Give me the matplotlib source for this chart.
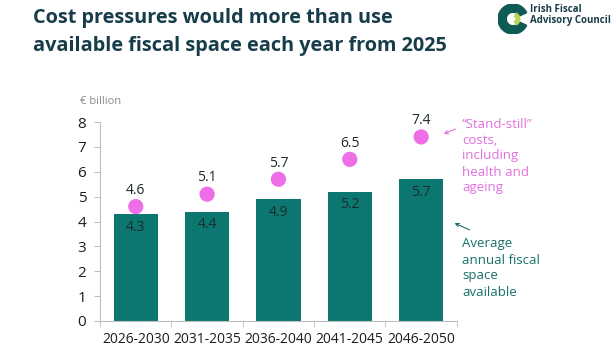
import matplotlib.pyplot as plt
from matplotlib.patches import Wedge, FancyArrowPatch

# Data
periods = ["2026-2030", "2031-2035", "2036-2040", "2041-2045", "2046-2050"]
fiscal_space = [4.3, 4.4, 4.9, 5.2, 5.7]
standstill_costs = [4.6, 5.1, 5.7, 6.5, 7.4]

teal = "#0b7770"
pink = "#ee6ee8"
dark = "#173c4a"
grey_axis = "#bfbfbf"

plt.rcParams['font.family'] = ['Open Sans', 'DejaVu Sans']

fig = plt.figure(figsize=(6.14, 3.46), dpi=100)
ax = fig.add_axes([0.163, 0.0723, 0.581, 0.575])

x = range(len(periods))
ax.bar(x, fiscal_space, width=0.62, color=teal, zorder=2)
ax.scatter(x, standstill_costs, s=120, color=pink, zorder=3, edgecolors='none')

for i, v in enumerate(fiscal_space):
    ax.text(i, v - 0.22, f"{v}", ha='center', va='top', fontsize=10, color="#1d2b2b", zorder=4)
for i, v in enumerate(standstill_costs):
    ax.text(i, v + 0.35, f"{v}", ha='center', va='bottom', fontsize=10, color="#1d2b2b", zorder=4)

ax.set_xlim(-0.5, len(periods) - 0.5)
ax.set_ylim(0, 8)
ax.set_yticks(range(0, 9))
ax.set_xticks(list(x))
ax.set_xticklabels(periods, fontsize=10, color="#1d1d1d")
ax.set_xticks([i + 0.5 for i in range(-1, len(periods))], minor=True)
ax.tick_params(axis='x', which='major', length=0, pad=8)
ax.tick_params(axis='x', which='minor', length=4, color=grey_axis, direction='out')
ax.tick_params(axis='y', length=4, color=grey_axis, labelsize=11, labelcolor="#1d1d1d", pad=6)
for side in ['top', 'right']:
    ax.spines[side].set_visible(False)
ax.spines['left'].set_color(grey_axis)
ax.spines['bottom'].set_color(grey_axis)

fig.text(80 / 614, 1 - 102 / 346, "€ billion", fontsize=8, color="#8a8a8a", va='center')

# Title
fig.text(33 / 614, 1 - 18 / 346, "Cost pressures would more than use",
         fontsize=14.3, fontweight='bold', color=dark, va='center', ha='left')
fig.text(33 / 614, 1 - 46 / 346, "available fiscal space each year from 2025",
         fontsize=14.3, fontweight='bold', color=dark, va='center', ha='left')

# Logo
lax = fig.add_axes([498 / 614, 1 - 34 / 346, 30 / 614, 30 / 346])
lax.set_xlim(-1, 1)
lax.set_ylim(-1, 1)
lax.set_aspect('equal')
lax.axis('off')
lax.add_patch(Wedge((0, 0), 1, 25, 335, width=0.55, color="#0e5a55"))
lax.add_patch(Wedge((0, 0), 0.45, -60, 60, width=0.25, color="#b7d55a"))
fig.text(530 / 614, 1 - 15 / 346, "Irish Fiscal\nAdvisory Council", fontsize=7, fontweight='bold',
         color=dark, va='center', ha='left', linespacing=1.1)

# Annotations
fig.text(462 / 614, 1 - 156 / 346, "\u201cStand-still\u201d\ncosts,\nincluding\nhealth and\nageing",
         fontsize=9.5, color="#e070e0", va='center', ha='left', linespacing=1.3)
fig.text(462 / 614, 1 - 268 / 346, "Average\nannual fiscal\nspace\navailable",
         fontsize=9.5, color="#17706a", va='center', ha='left', linespacing=1.3)
fig.patches.append(FancyArrowPatch((458 / 614, 1 - 128 / 346), (441 / 614, 1 - 135 / 346),
                                   transform=fig.transFigure, arrowstyle='->', mutation_scale=6,
                                   color="#e070e0", lw=0.8))
fig.patches.append(FancyArrowPatch((472 / 614, 1 - 231 / 346), (452 / 614, 1 - 222 / 346),
                                   transform=fig.transFigure, arrowstyle='->', mutation_scale=6,
                                   color="#17706a", lw=0.8))

fig.savefig("out.png", dpi=100)
